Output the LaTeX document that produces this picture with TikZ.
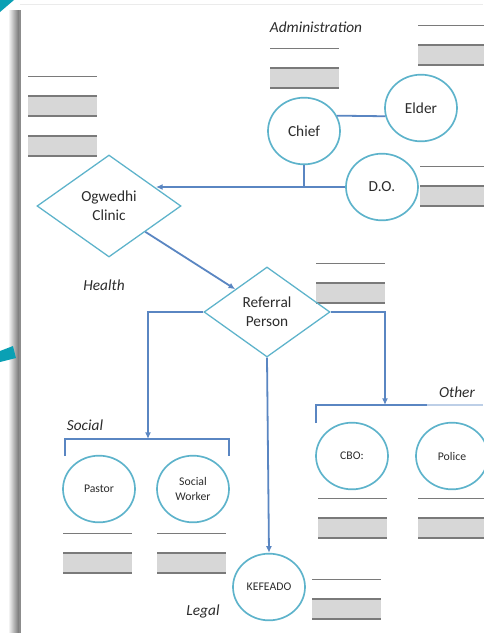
\documentclass[tikz,border=0pt]{standalone}
\usepackage{fontspec}
\setmainfont{Carlito}
\usetikzlibrary{shapes.geometric,arrows.meta}
\definecolor{ring}{HTML}{5DB3CB}
\definecolor{flow}{HTML}{5A86C2}
\definecolor{barfill}{HTML}{D7D7D7}
\definecolor{barrule}{HTML}{7A7A7A}
\definecolor{tealmark}{HTML}{0AA0B4}
\definecolor{ink}{HTML}{2C2C2C}
\begin{document}
\begin{tikzpicture}[x=0.75pt,y=-0.75pt,
  person/.style={ellipse,draw=ring,line width=1.25pt,minimum width=54pt,minimum height=50pt,
    inner sep=0pt,text=ink,align=center,font=\fontsize{11.5}{13}\selectfont},
  small/.style={font=\fontsize{8.8}{11}\selectfont},
  hub/.style={diamond,draw=ring,line width=0.95pt,inner sep=0pt,text=ink,align=center,
    font=\fontsize{11.5}{14.5}\selectfont},
  flowline/.style={draw=flow,line width=1.35pt},
  flowarrow/.style={flowline,-{Latex[length=5pt,width=4.5pt]}},
  group/.style={font=\itshape\fontsize{11.5}{13}\selectfont,text=ink},
  fillin/.pic={
    \draw[barrule,line width=0.7pt] (0,0) -- (69,0);
    \fill[barfill] (0,20) rectangle (69,40);
    \draw[barrule,line width=0.9pt] (0,20) -- (69,20) (0,40) -- (69,40);
  }]
\useasboundingbox (0,0) rectangle (483,633);
\fill[white] (0,0) rectangle (483,633);

% page edge and shadow
\draw[black!8] (20,4) -- (483,4);
\shade[left color=white,right color=black!55] (8,10) rectangle (19,633);
\fill[black!45] (19,10) rectangle (21,633);

% corner marks
\fill[tealmark] (0,0) -- (14,0) -- (0,12) -- cycle;
\fill[tealmark] (0,351) -- (13,346) -- (16,358) -- (0,362) -- cycle;

% group headings
\node[group] (admin) at (316,27) {Administration};
\node[group] (health) at (104,285) {Health};
\node[group] (social) at (85,425) {Social};
\node[group] (other) at (457,392) {Other};
\node[group] (legal) at (203,611) {Legal};

% blanks to fill in
\pic at (28,76) {fillin};
\pic at (28,116) {fillin};
\pic at (270,48) {fillin};
\pic at (418,25) {fillin};
\pic at (420,166) {fillin};
\pic at (316,263) {fillin};
\pic at (63,533) {fillin};
\pic at (157,533) {fillin};
\pic at (318,498) {fillin};
\pic at (418,498) {fillin};
\pic at (312,579) {fillin};

% actors
\node[person] (chief) at (304,131) {Chief};
\node[person] (elder) at (421,108) {Elder};
\node[person] (do) at (382,187) {D.O.};
\node[hub,minimum width=108pt,minimum height=76.5pt] (ogw) at (109,206) {Ogwedhi\\Clinic};
\node[hub,minimum width=94.5pt,minimum height=67.5pt] (ref) at (267,312) {Referral\\Person};
\node[person,small] (pastor) at (99,489) {Pastor};
\node[person,small] (sw) at (193,489) {Social\\Worker};
\node[person,small] (cbo) at (352,456) {CBO:};
\node[person,small] (police) at (452,456) {Police};
\node[person,small] (kef) at (269,587) {KEFEADO};

% junctions and arrow ends
\coordinate (cj) at (304,187);
\coordinate (ogwin) at (156,187);
\coordinate (soctip) at (148,439);
\coordinate (othtip) at (385,405);

% connectors
\draw[flowline] (chief.25) -- (elder.193);
\draw[flowline] (chief.south) -- (cj);
\draw[flowarrow] (do.west) -- (ogwin);
\draw[flowarrow] (ogw.south east) -- (ref.north west);
\draw[flowarrow] (ref.west) -| (soctip);
\draw[flowarrow] (ref.east) -| (othtip);
\draw[flowarrow] (ref.south) -- (kef.north);

% brackets
\draw[flowline] (65,456) -- (65,439) -- (229,439) -- (229,456);
\draw[flowline] (316,423) -- (316,405) -- (427,405);
\draw[flow!40,line width=0.8pt] (427,405) -- (483,405);
\end{tikzpicture}
\end{document}
